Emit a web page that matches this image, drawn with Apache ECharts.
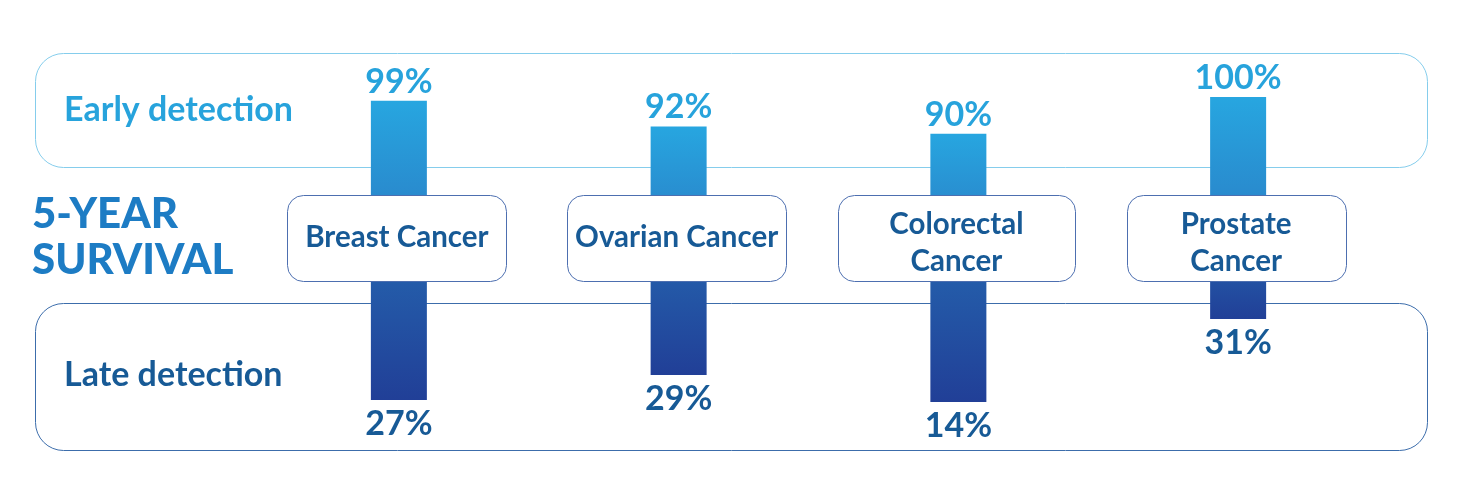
<!DOCTYPE html>
<html>
<head>
<meta charset="utf-8">
<script src="https://cdn.jsdelivr.net/npm/echarts@6/dist/echarts.min.js"></script>
<style>
html,body{margin:0;padding:0;background:#fff;}
#chart{width:1460px;height:503px;}
</style>
</head>
<body>
<div id="chart"></div>
<script>
// ---- data ----
const categories = ['Breast Cancer', 'Ovarian Cancer', 'Colorectal\nCancer', 'Prostate\nCancer'];
const earlyValues = [99, 92, 90, 100];      // 5-year survival, early detection (%)
const lateValues = [27, 29, 14, 31];        // 5-year survival, late detection (%)
const lateBarDrawn = [40.75, 34.5, 41.25, 20.5]; // late bar lengths as drawn in the picture (not to scale with %)
const titleText = ['5-YEAR', 'SURVIVAL'];
const earlyTitle = 'Early detection';
const lateTitle = 'Late detection';

// ---- styles ----
const FONT = 'Lato';
const lightBlue = '#27a3dc';
const darkBlue = '#175a96';
const boxWidths = [219, 219, 237, 219];

const chart = echarts.init(document.getElementById('chart'), null, {renderer: 'canvas'});

const earlyGrad = new echarts.graphic.LinearGradient(0, 0, 0, 1, [
  {offset: 0, color: '#27a6e0'}, {offset: 1, color: '#2a7fc6'}
]);
const lateGrad = new echarts.graphic.LinearGradient(0, 0, 0, 1, [
  {offset: 0, color: '#2566b0'}, {offset: 1, color: '#213f97'}
]);

const option = {
  animation: false,
  grid: [
    {left: 259, right: 82, top: 97, height: 140},
    {left: 259, right: 82, top: 237, height: 200}
  ],
  xAxis: [
    {type: 'category', gridIndex: 0, data: categories, show: false},
    {type: 'category', gridIndex: 1, data: categories, show: false}
  ],
  yAxis: [
    {type: 'value', gridIndex: 0, min: 62, max: 100, show: false},
    {type: 'value', gridIndex: 1, min: 0, max: 50, inverse: true, show: false}
  ],
  series: [
    {
      type: 'bar', xAxisIndex: 0, yAxisIndex: 0, barWidth: 56, clip: true, z: 3,
      data: earlyValues,
      itemStyle: {color: earlyGrad},
      label: {
        show: true, position: 'top', distance: 2,
        formatter: p => p.value + '%',
        fontFamily: FONT, fontWeight: 'bold', fontSize: 34, color: lightBlue
      }
    },
    {
      type: 'bar', xAxisIndex: 1, yAxisIndex: 1, barWidth: 56, clip: true, z: 3,
      data: lateBarDrawn.map((v, i) => ({value: v, label: {formatter: lateValues[i] + '%'}})),
      itemStyle: {color: lateGrad},
      label: {
        show: true, position: 'bottom', distance: 7,
        fontFamily: FONT, fontWeight: 'bold', fontSize: 34, color: darkBlue
      }
    }
  ]
};
chart.setOption(option);

// ---- decorations: panels, titles, category boxes ----
const graphics = [
  {type: 'rect', z: 1, shape: {x: 35.5, y: 53.5, width: 1392, height: 114, r: 28},
   style: {fill: 'none', stroke: '#85cdec', lineWidth: 1}},
  {type: 'rect', z: 1, shape: {x: 35.5, y: 303.5, width: 1392, height: 147, r: 28},
   style: {fill: 'none', stroke: '#3c6dab', lineWidth: 1}},
  {type: 'text', z: 5, x: 64, y: 110,
   style: {text: earlyTitle, fontFamily: FONT, fontWeight: 'bold', fontSize: 34, fill: lightBlue, verticalAlign: 'middle'}},
  {type: 'text', z: 5, x: 64, y: 375,
   style: {text: lateTitle, fontFamily: FONT, fontWeight: 'bold', fontSize: 34, fill: darkBlue, verticalAlign: 'middle'}},
  {type: 'text', z: 5, x: 32, y: 237,
   style: {text: titleText.join('\n'), fontFamily: FONT, fontWeight: 900, fontSize: 42, lineHeight: 46, fill: '#1d7cc4', verticalAlign: 'middle'}}
];
categories.forEach((c, i) => {
  const px = chart.convertToPixel({xAxisIndex: 0}, i) - 2;
  const w = boxWidths[i];
  const twoLine = c.indexOf('\n') >= 0;
  graphics.push({
    type: 'rect', z: 10,
    shape: {x: Math.round(px - w / 2) + 0.5, y: 195.5, width: w, height: 86, r: 16},
    style: {fill: '#fff', stroke: '#4d6fb0', lineWidth: 1}
  });
  graphics.push({
    type: 'text', z: 11, x: px, y: twoLine ? 243 : 237,
    style: {text: c, fontFamily: FONT, fontWeight: 'bold', fontSize: 29.5, lineHeight: 37,
            fill: darkBlue, align: 'center', verticalAlign: 'middle'}
  });
});
chart.setOption({graphic: graphics});
</script>
</body>
</html>
